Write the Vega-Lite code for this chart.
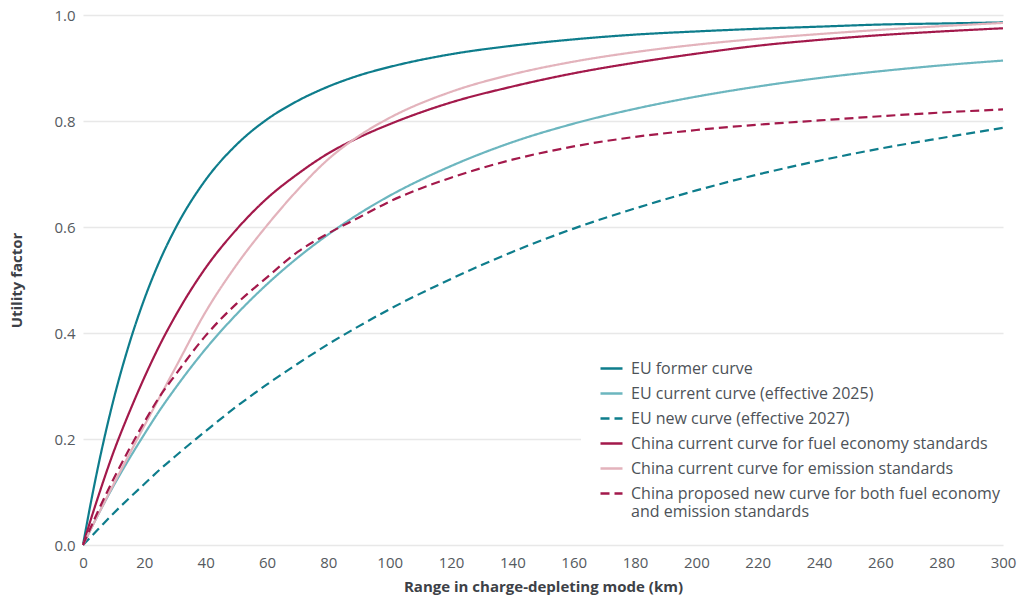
{
  "$schema": "https://vega.github.io/schema/vega-lite/v6.json",
  "width": 920,
  "height": 530,
  "autosize": {"type": "none"},
  "padding": {"left": 83, "top": 15, "right": 21, "bottom": 59},
  "background": "white",
  "config": {"font": "Open Sans", "view": {"stroke": null}},
  "datasets": {
    "curves": [
      {"series": "EU former curve", "km": 0, "uf": 0},
      {"series": "EU former curve", "km": 2, "uf": 0.063},
      {"series": "EU former curve", "km": 5, "uf": 0.150},
      {"series": "EU former curve", "km": 10, "uf": 0.275},
      {"series": "EU former curve", "km": 15, "uf": 0.378},
      {"series": "EU former curve", "km": 20, "uf": 0.464},
      {"series": "EU former curve", "km": 25, "uf": 0.536},
      {"series": "EU former curve", "km": 30, "uf": 0.596},
      {"series": "EU former curve", "km": 40, "uf": 0.689},
      {"series": "EU former curve", "km": 50, "uf": 0.755},
      {"series": "EU former curve", "km": 60, "uf": 0.803},
      {"series": "EU former curve", "km": 70, "uf": 0.838},
      {"series": "EU former curve", "km": 80, "uf": 0.865},
      {"series": "EU former curve", "km": 90, "uf": 0.886},
      {"series": "EU former curve", "km": 100, "uf": 0.902},
      {"series": "EU former curve", "km": 120, "uf": 0.926},
      {"series": "EU former curve", "km": 140, "uf": 0.942},
      {"series": "EU former curve", "km": 160, "uf": 0.954},
      {"series": "EU former curve", "km": 180, "uf": 0.963},
      {"series": "EU former curve", "km": 200, "uf": 0.969},
      {"series": "EU former curve", "km": 220, "uf": 0.974},
      {"series": "EU former curve", "km": 240, "uf": 0.978},
      {"series": "EU former curve", "km": 260, "uf": 0.982},
      {"series": "EU former curve", "km": 280, "uf": 0.984},
      {"series": "EU former curve", "km": 300, "uf": 0.986},

      {"series": "EU current curve (effective 2025)", "km": 0, "uf": 0},
      {"series": "EU current curve (effective 2025)", "km": 5, "uf": 0.058},
      {"series": "EU current curve (effective 2025)", "km": 10, "uf": 0.112},
      {"series": "EU current curve (effective 2025)", "km": 15, "uf": 0.162},
      {"series": "EU current curve (effective 2025)", "km": 20, "uf": 0.209},
      {"series": "EU current curve (effective 2025)", "km": 25, "uf": 0.254},
      {"series": "EU current curve (effective 2025)", "km": 30, "uf": 0.295},
      {"series": "EU current curve (effective 2025)", "km": 40, "uf": 0.370},
      {"series": "EU current curve (effective 2025)", "km": 50, "uf": 0.435},
      {"series": "EU current curve (effective 2025)", "km": 60, "uf": 0.492},
      {"series": "EU current curve (effective 2025)", "km": 70, "uf": 0.542},
      {"series": "EU current curve (effective 2025)", "km": 80, "uf": 0.586},
      {"series": "EU current curve (effective 2025)", "km": 90, "uf": 0.625},
      {"series": "EU current curve (effective 2025)", "km": 100, "uf": 0.659},
      {"series": "EU current curve (effective 2025)", "km": 120, "uf": 0.715},
      {"series": "EU current curve (effective 2025)", "km": 140, "uf": 0.760},
      {"series": "EU current curve (effective 2025)", "km": 160, "uf": 0.795},
      {"series": "EU current curve (effective 2025)", "km": 180, "uf": 0.823},
      {"series": "EU current curve (effective 2025)", "km": 200, "uf": 0.846},
      {"series": "EU current curve (effective 2025)", "km": 220, "uf": 0.865},
      {"series": "EU current curve (effective 2025)", "km": 240, "uf": 0.881},
      {"series": "EU current curve (effective 2025)", "km": 260, "uf": 0.894},
      {"series": "EU current curve (effective 2025)", "km": 280, "uf": 0.905},
      {"series": "EU current curve (effective 2025)", "km": 300, "uf": 0.914},

      {"series": "EU new curve (effective 2027)", "km": 0, "uf": 0},
      {"series": "EU new curve (effective 2027)", "km": 5, "uf": 0.030},
      {"series": "EU new curve (effective 2027)", "km": 10, "uf": 0.060},
      {"series": "EU new curve (effective 2027)", "km": 15, "uf": 0.088},
      {"series": "EU new curve (effective 2027)", "km": 20, "uf": 0.115},
      {"series": "EU new curve (effective 2027)", "km": 25, "uf": 0.142},
      {"series": "EU new curve (effective 2027)", "km": 30, "uf": 0.167},
      {"series": "EU new curve (effective 2027)", "km": 40, "uf": 0.215},
      {"series": "EU new curve (effective 2027)", "km": 50, "uf": 0.261},
      {"series": "EU new curve (effective 2027)", "km": 60, "uf": 0.303},
      {"series": "EU new curve (effective 2027)", "km": 70, "uf": 0.342},
      {"series": "EU new curve (effective 2027)", "km": 80, "uf": 0.379},
      {"series": "EU new curve (effective 2027)", "km": 90, "uf": 0.413},
      {"series": "EU new curve (effective 2027)", "km": 100, "uf": 0.445},
      {"series": "EU new curve (effective 2027)", "km": 120, "uf": 0.502},
      {"series": "EU new curve (effective 2027)", "km": 140, "uf": 0.553},
      {"series": "EU new curve (effective 2027)", "km": 160, "uf": 0.597},
      {"series": "EU new curve (effective 2027)", "km": 180, "uf": 0.635},
      {"series": "EU new curve (effective 2027)", "km": 200, "uf": 0.669},
      {"series": "EU new curve (effective 2027)", "km": 220, "uf": 0.699},
      {"series": "EU new curve (effective 2027)", "km": 240, "uf": 0.725},
      {"series": "EU new curve (effective 2027)", "km": 260, "uf": 0.748},
      {"series": "EU new curve (effective 2027)", "km": 280, "uf": 0.768},
      {"series": "EU new curve (effective 2027)", "km": 300, "uf": 0.787},

      {"series": "China current curve for fuel economy standards", "km": 0, "uf": 0},
      {"series": "China current curve for fuel economy standards", "km": 2, "uf": 0.038},
      {"series": "China current curve for fuel economy standards", "km": 5, "uf": 0.092},
      {"series": "China current curve for fuel economy standards", "km": 10, "uf": 0.176},
      {"series": "China current curve for fuel economy standards", "km": 15, "uf": 0.249},
      {"series": "China current curve for fuel economy standards", "km": 20, "uf": 0.316},
      {"series": "China current curve for fuel economy standards", "km": 25, "uf": 0.377},
      {"series": "China current curve for fuel economy standards", "km": 30, "uf": 0.431},
      {"series": "China current curve for fuel economy standards", "km": 40, "uf": 0.523},
      {"series": "China current curve for fuel economy standards", "km": 50, "uf": 0.595},
      {"series": "China current curve for fuel economy standards", "km": 60, "uf": 0.654},
      {"series": "China current curve for fuel economy standards", "km": 70, "uf": 0.700},
      {"series": "China current curve for fuel economy standards", "km": 80, "uf": 0.739},
      {"series": "China current curve for fuel economy standards", "km": 90, "uf": 0.769},
      {"series": "China current curve for fuel economy standards", "km": 100, "uf": 0.794},
      {"series": "China current curve for fuel economy standards", "km": 120, "uf": 0.835},
      {"series": "China current curve for fuel economy standards", "km": 140, "uf": 0.865},
      {"series": "China current curve for fuel economy standards", "km": 160, "uf": 0.890},
      {"series": "China current curve for fuel economy standards", "km": 180, "uf": 0.910},
      {"series": "China current curve for fuel economy standards", "km": 200, "uf": 0.927},
      {"series": "China current curve for fuel economy standards", "km": 220, "uf": 0.942},
      {"series": "China current curve for fuel economy standards", "km": 240, "uf": 0.953},
      {"series": "China current curve for fuel economy standards", "km": 260, "uf": 0.962},
      {"series": "China current curve for fuel economy standards", "km": 280, "uf": 0.969},
      {"series": "China current curve for fuel economy standards", "km": 300, "uf": 0.975},

      {"series": "China current curve for emission standards", "km": 0, "uf": 0},
      {"series": "China current curve for emission standards", "km": 5, "uf": 0.058},
      {"series": "China current curve for emission standards", "km": 10, "uf": 0.115},
      {"series": "China current curve for emission standards", "km": 15, "uf": 0.170},
      {"series": "China current curve for emission standards", "km": 20, "uf": 0.225},
      {"series": "China current curve for emission standards", "km": 25, "uf": 0.279},
      {"series": "China current curve for emission standards", "km": 30, "uf": 0.333},
      {"series": "China current curve for emission standards", "km": 40, "uf": 0.440},
      {"series": "China current curve for emission standards", "km": 50, "uf": 0.528},
      {"series": "China current curve for emission standards", "km": 60, "uf": 0.603},
      {"series": "China current curve for emission standards", "km": 70, "uf": 0.670},
      {"series": "China current curve for emission standards", "km": 80, "uf": 0.728},
      {"series": "China current curve for emission standards", "km": 90, "uf": 0.772},
      {"series": "China current curve for emission standards", "km": 100, "uf": 0.806},
      {"series": "China current curve for emission standards", "km": 120, "uf": 0.855},
      {"series": "China current curve for emission standards", "km": 140, "uf": 0.888},
      {"series": "China current curve for emission standards", "km": 160, "uf": 0.912},
      {"series": "China current curve for emission standards", "km": 180, "uf": 0.930},
      {"series": "China current curve for emission standards", "km": 200, "uf": 0.944},
      {"series": "China current curve for emission standards", "km": 220, "uf": 0.955},
      {"series": "China current curve for emission standards", "km": 240, "uf": 0.964},
      {"series": "China current curve for emission standards", "km": 260, "uf": 0.972},
      {"series": "China current curve for emission standards", "km": 280, "uf": 0.979},
      {"series": "China current curve for emission standards", "km": 300, "uf": 0.985},

      {"series": "China proposed new curve for both fuel economy and emission standards", "km": 0, "uf": 0},
      {"series": "China proposed new curve for both fuel economy and emission standards", "km": 5, "uf": 0.065},
      {"series": "China proposed new curve for both fuel economy and emission standards", "km": 10, "uf": 0.125},
      {"series": "China proposed new curve for both fuel economy and emission standards", "km": 15, "uf": 0.180},
      {"series": "China proposed new curve for both fuel economy and emission standards", "km": 20, "uf": 0.232},
      {"series": "China proposed new curve for both fuel economy and emission standards", "km": 25, "uf": 0.280},
      {"series": "China proposed new curve for both fuel economy and emission standards", "km": 30, "uf": 0.320},
      {"series": "China proposed new curve for both fuel economy and emission standards", "km": 40, "uf": 0.395},
      {"series": "China proposed new curve for both fuel economy and emission standards", "km": 50, "uf": 0.455},
      {"series": "China proposed new curve for both fuel economy and emission standards", "km": 60, "uf": 0.505},
      {"series": "China proposed new curve for both fuel economy and emission standards", "km": 70, "uf": 0.553},
      {"series": "China proposed new curve for both fuel economy and emission standards", "km": 80, "uf": 0.588},
      {"series": "China proposed new curve for both fuel economy and emission standards", "km": 90, "uf": 0.618},
      {"series": "China proposed new curve for both fuel economy and emission standards", "km": 100, "uf": 0.648},
      {"series": "China proposed new curve for both fuel economy and emission standards", "km": 120, "uf": 0.693},
      {"series": "China proposed new curve for both fuel economy and emission standards", "km": 140, "uf": 0.727},
      {"series": "China proposed new curve for both fuel economy and emission standards", "km": 160, "uf": 0.752},
      {"series": "China proposed new curve for both fuel economy and emission standards", "km": 180, "uf": 0.770},
      {"series": "China proposed new curve for both fuel economy and emission standards", "km": 200, "uf": 0.783},
      {"series": "China proposed new curve for both fuel economy and emission standards", "km": 220, "uf": 0.793},
      {"series": "China proposed new curve for both fuel economy and emission standards", "km": 240, "uf": 0.801},
      {"series": "China proposed new curve for both fuel economy and emission standards", "km": 260, "uf": 0.809},
      {"series": "China proposed new curve for both fuel economy and emission standards", "km": 280, "uf": 0.816},
      {"series": "China proposed new curve for both fuel economy and emission standards", "km": 300, "uf": 0.822}
    ]
  },
  "data": {"name": "curves"},
  "mark": {"type": "line", "strokeWidth": 2.2, "interpolate": "monotone"},
  "encoding": {
    "x": {
      "field": "km", "type": "quantitative",
      "scale": {"domain": [0, 300], "nice": false},
      "axis": {
        "values": [0, 20, 40, 60, 80, 100, 120, 140, 160, 180, 200, 220, 240, 260, 280, 300],
        "title": "Range in charge-depleting mode (km)",
        "grid": false, "domain": false, "ticks": false, "labelFlush": false,
        "labelPadding": 10, "labelFontSize": 15, "labelColor": "#555a60",
        "titleFontSize": 15, "titleFontWeight": "bold", "titleColor": "#3d4147", "titlePadding": 9
      }
    },
    "y": {
      "field": "uf", "type": "quantitative",
      "scale": {"domain": [0, 1], "nice": false},
      "axis": {
        "values": [0, 0.2, 0.4, 0.6, 0.8, 1.0], "format": ".1f",
        "title": "Utility factor",
        "grid": true, "gridColor": "#e8e8e8", "gridWidth": 1.5,
        "domain": false, "ticks": false, "labelFlush": false,
        "labelPadding": 8, "labelFontSize": 15, "labelColor": "#555a60",
        "titleFontSize": 15, "titleFontWeight": "bold", "titleColor": "#3d4147", "titlePadding": 29
      }
    },
    "color": {
      "field": "series", "type": "nominal",
      "scale": {
        "domain": ["EU former curve", "EU current curve (effective 2025)", "EU new curve (effective 2027)", "China current curve for fuel economy standards", "China current curve for emission standards", "China proposed new curve for both fuel economy and emission standards"],
        "range": ["#0e7d8c", "#6cb6bf", "#0e7d8c", "#a3194b", "#e3b3bc", "#a3194b"]
      },
      "legend": {
        "orient": "none", "legendX": 498, "legendY": 323,
        "title": null, "fillColor": "white", "padding": 18,
        "symbolType": "stroke", "symbolSize": 484, "symbolStrokeWidth": 2.5,
        "labelFontSize": 16, "labelColor": "#4d5258", "labelOffset": 7,
        "labelLineHeight": 20,
        "rowPadding": 4, "labelLimit": 500,
        "labelExpr": "datum.label == 'China proposed new curve for both fuel economy and emission standards' ? ['China proposed new curve for both fuel economy', 'and emission standards'] : datum.label"
      }
    },
    "strokeDash": {
      "field": "series", "type": "nominal",
      "scale": {
        "domain": ["EU former curve", "EU current curve (effective 2025)", "EU new curve (effective 2027)", "China current curve for fuel economy standards", "China current curve for emission standards", "China proposed new curve for both fuel economy and emission standards"],
        "range": [[1, 0], [1, 0], [9, 5], [1, 0], [1, 0], [9, 5]]
      }
    }
  }
}
